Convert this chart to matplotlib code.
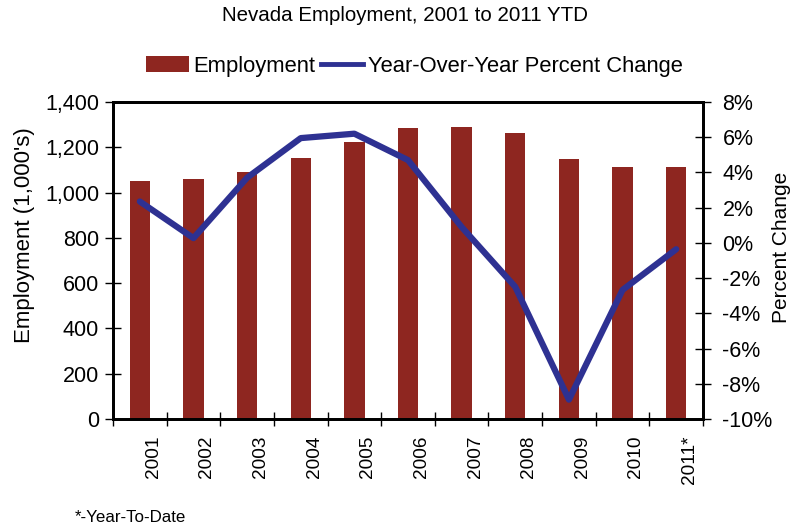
"""Nevada employment chart, 2001 to 2011 YTD"""

import numpy as np
import matplotlib.pyplot as plt
from matplotlib.lines import Line2D

plt.rcParams['font.family'] = ['Liberation Sans', 'DejaVu Sans']

years = ['2001', '2002', '2003', '2004', '2005', '2006',
         '2007', '2008', '2009', '2010', '2011*']
employment = [1052, 1059, 1090, 1153, 1225, 1284, 1291, 1265, 1147, 1114, 1114]
pct_change = [2.35, 0.27, 3.7, 5.95, 6.2, 4.7, 0.9, -2.5, -8.9, -2.67, -0.36]

BAR_COLOR = '#8e2620'
LINE_COLOR = '#2e3192'

fig = plt.figure(figsize=(8.09, 5.26), dpi=100)
ax = fig.add_axes([0.1397, 0.2034, 0.7293, 0.6027])
ax2 = ax.twinx()

x = np.arange(len(years))
bars = ax.bar(x, employment, width=0.38, color=BAR_COLOR, zorder=2,
              label='Employment')
ax2.plot(x, pct_change, color=LINE_COLOR, lw=4.5,
         solid_joinstyle='round', solid_capstyle='round')

ax.set_xlim(-0.5, len(years) - 0.5)
ax.set_ylim(0, 1400)
ax.set_yticks(np.arange(0, 1401, 200))
ax.set_yticklabels([f'{v:,}' for v in range(0, 1401, 200)])
ax2.set_ylim(-10, 8)
ax2.set_yticks(np.arange(-10, 9, 2))
ax2.set_yticklabels([f'{v}%' for v in range(-10, 9, 2)])

# ticks on category boundaries, labels shifted to the right of each bar
ax.set_xticks(np.arange(-0.5, len(years) + 0.5, 1))
ax.set_xticklabels([])
ax.set_xticks(x + 0.25, minor=True)
ax.set_xticklabels(years, minor=True, rotation=90, fontsize=13.7)
ax.tick_params(axis='x', which='minor', length=0, pad=12)
ax.tick_params(axis='x', which='major', direction='inout', length=10, width=1)
ax.tick_params(axis='y', direction='inout', length=12, width=1,
               labelsize=15.5, pad=4)
ax2.tick_params(axis='y', direction='inout', length=12, width=1,
                labelsize=15.5, pad=8)

for a in (ax, ax2):
    for s in a.spines.values():
        s.set_linewidth(2)
        s.set_color('black')

ax.set_ylabel("Employment (1,000's)", fontsize=16)
ax.yaxis.set_label_coords(-0.133, 0.58)
ax2.set_ylabel('Percent Change', fontsize=15)
ax2.yaxis.set_label_coords(1.117, 0.54)

fig.text(0.5, 0.971, 'Nevada Employment, 2001 to 2011 YTD',
         ha='center', va='center', fontsize=14.8)

line_handle = Line2D([], [], color=LINE_COLOR, lw=3.5)
fig.legend(handles=[bars, line_handle],
           labels=['Employment', 'Year-Over-Year Percent Change'],
           loc='center', bbox_to_anchor=(0.512, 0.874),
           ncol=2, frameon=False, fontsize=15.8, handlelength=1.95,
           handletextpad=0.2, columnspacing=0.25, borderpad=0)
fig.text(0.093, 0.017, '*-Year-To-Date', ha='left', va='center', fontsize=12.2)

fig.savefig('out.png', dpi=100)
